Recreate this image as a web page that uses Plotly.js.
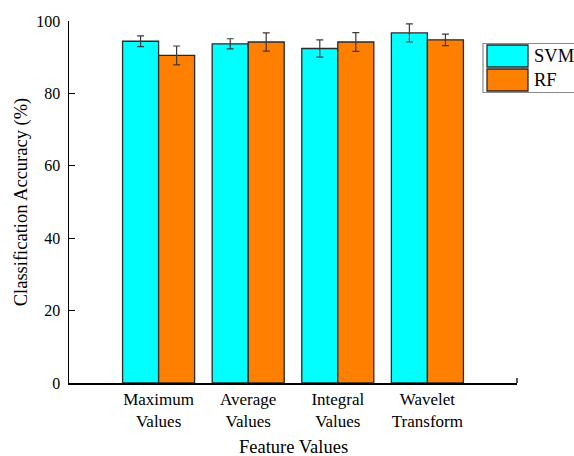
<!DOCTYPE html>
<html>
<head>
<meta charset="utf-8">
<script src="https://cdn.plot.ly/plotly-3.0.1.min.js"></script>
<style>
  html, body { margin: 0; padding: 0; background: #fff; }
  #chart { width: 574px; height: 456px; }
</style>
</head>
<body>
<div id="chart"></div>
<script>
// Feature extraction methods on the x axis
const categories = ["Maximum<br>Values", "Average<br>Values", "Integral<br>Values", "Wavelet<br>Transform"];

// Series names
const seriesNames = ["SVM", "RF"];

// Mean classification accuracy (%) and standard deviation
const svmAccuracy = [94.4, 93.7, 92.4, 96.7];
const svmError = [1.5, 1.4, 2.4, 2.5];
const rfAccuracy = [90.5, 94.2, 94.2, 94.8];
const rfError = [2.6, 2.5, 2.6, 1.6];

const seriesColors = ["#00FFFF", "#FF8000"];

const xTitle = "Feature Values";
const yTitle = "Classification Accuracy (%)";

const FONT = "Liberation Serif";
const W = 574, H = 456;
const M = { l: 69, r: 57, t: 21, b: 73 };
const plotW = W - M.l - M.r;
const plotH = H - M.t - M.b;
// pixel -> paper helpers for the hand-drawn legend and x title
const px = x => (x - M.l) / plotW;
const py = y => (H - M.b - y) / plotH;

function barTrace(name, y, err, color) {
  return {
    type: "bar",
    name: name,
    x: categories,
    y: y,
    marker: { color: color, line: { color: "#2a2a2a", width: 1.3 } },
    error_y: { type: "data", array: err, visible: true, color: "#3a3a3a", thickness: 1.2, width: 3.5 },
    showlegend: false,
    hoverinfo: "y"
  };
}

const data = [
  barTrace(seriesNames[0], svmAccuracy, svmError, seriesColors[0]),
  barTrace(seriesNames[1], rfAccuracy, rfError, seriesColors[1])
];

// Legend: framed box with large colour swatches
const shapes = [
  { type: "rect", xref: "paper", yref: "paper", x0: px(483), x1: px(590), y0: py(92.5), y1: py(43.5),
    line: { color: "#8a8a8a", width: 1.2 }, fillcolor: "#ffffff", layer: "above" }
];
const annotations = [];
const swatchTop = [45, 69];
seriesNames.forEach((name, i) => {
  const t = swatchTop[i];
  shapes.push({ type: "rect", xref: "paper", yref: "paper", x0: px(487), x1: px(528), y0: py(t + 22), y1: py(t),
    line: { color: "#2a2a2a", width: 1.3 }, fillcolor: seriesColors[i], layer: "above" });
  annotations.push({ xref: "paper", yref: "paper", x: px(532), y: py(t + 11), xanchor: "left", yanchor: "middle",
    text: name, showarrow: false, font: { family: FONT, size: 18.5, color: "#000" } });
});
// x axis title, set close to the bottom edge
annotations.push({ xref: "paper", yref: "paper", x: 0.5, y: py(447), xanchor: "center", yanchor: "middle",
  borderpad: 0, text: xTitle, showarrow: false, font: { family: FONT, size: 18.5, color: "#000" } });
// small end tick on the x axis
shapes.push({ type: "line", xref: "paper", yref: "paper", x0: 1, x1: 1, y0: 0, y1: 5 / plotH,
  line: { color: "#000", width: 1.3 } });

const layout = {
  width: W, height: H,
  margin: M,
  paper_bgcolor: "#fff",
  plot_bgcolor: "#fff",
  font: { family: FONT, color: "#000" },
  barmode: "group",
  bargap: 0.196,
  bargroupgap: 0,
  xaxis: {
    type: "category",
    range: [-1, 4],
    showline: true, linecolor: "#000", linewidth: 1.5,
    showgrid: false, zeroline: false,
    ticks: "", tickfont: { family: FONT, size: 17, color: "#000" },
    fixedrange: true
  },
  yaxis: {
    range: [0, 100],
    tickvals: [0, 20, 40, 60, 80, 100],
    showline: true, linecolor: "#000", linewidth: 1.5,
    showgrid: false, zeroline: false,
    ticks: "inside", ticklen: 6, tickwidth: 1.3, tickcolor: "#000",
    tickfont: { family: FONT, size: 16, color: "#000" },
    ticklabelstandoff: 4,
    title: { text: yTitle, font: { family: FONT, size: 18.5, color: "#000" }, standoff: 4 },
    fixedrange: true
  },
  shapes: shapes,
  annotations: annotations
};

Plotly.newPlot("chart", data, layout, { displayModeBar: false, staticPlot: true });
</script>
</body>
</html>
